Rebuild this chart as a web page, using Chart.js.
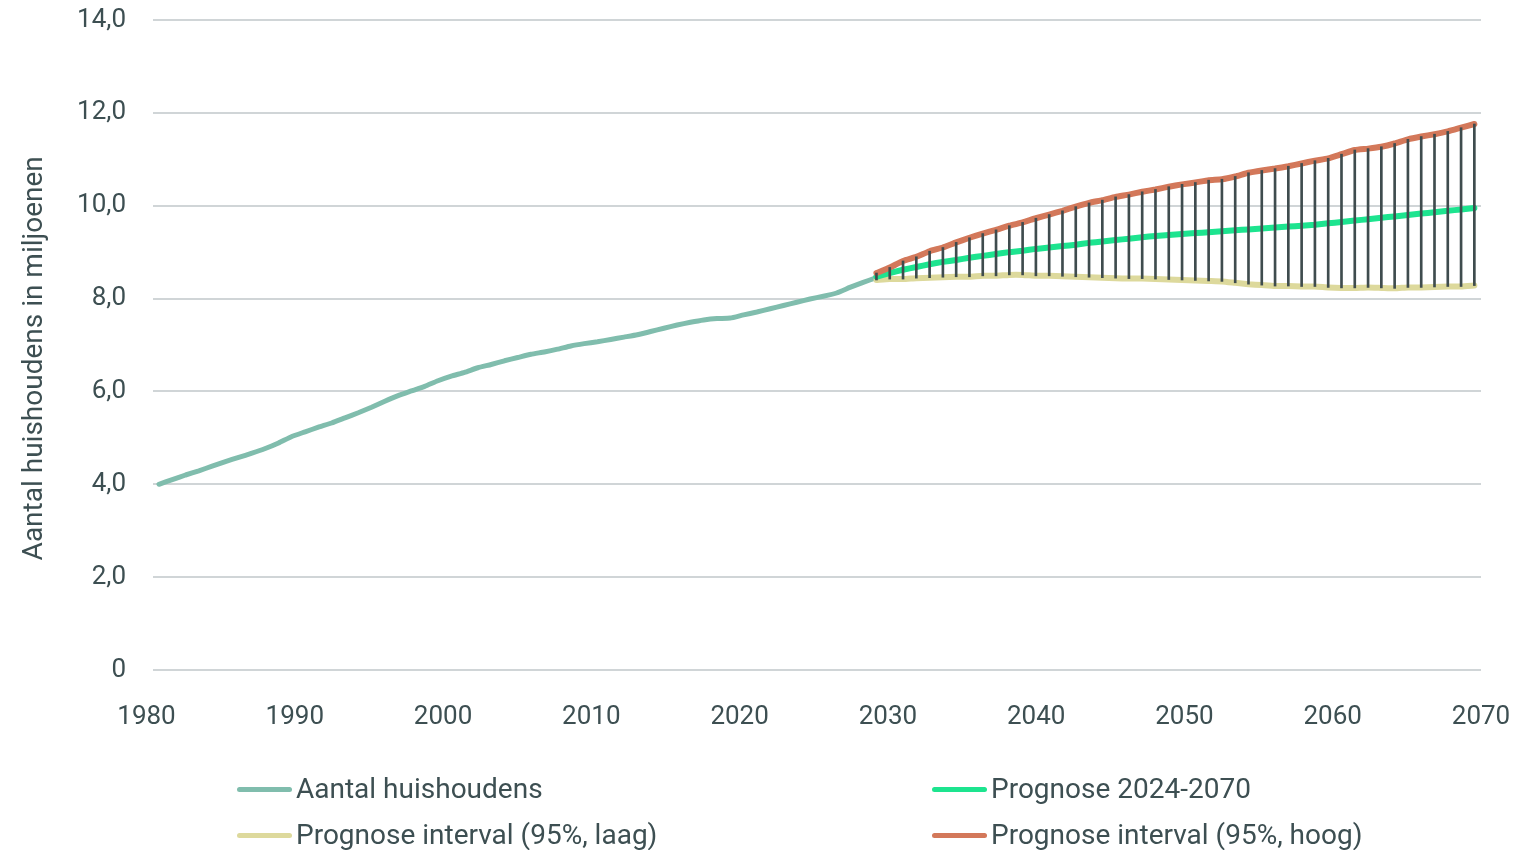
<!DOCTYPE html>
<html>
<head>
<meta charset="utf-8">
<script src="https://cdn.jsdelivr.net/npm/chart.js@4.4.1/dist/chart.umd.min.js"></script>
<style>
  html, body { margin: 0; padding: 0; background: #ffffff; }
  #wrap { position: relative; width: 1539px; height: 850px; overflow: hidden; background: #fff; }
  #c { position: absolute; left: 0; top: 0; }
  .legend { position: absolute; font-family: Roboto, sans-serif; font-size: 28px; line-height: 28px; color: #3d4f52; }
  .item { position: absolute; display: flex; align-items: center; white-space: nowrap; }
  .swatch { display: inline-block; width: 55px; height: 5px; border-radius: 3px; margin-right: 4px; }
</style>
</head>
<body>
<div id="wrap">
  <canvas id="c" width="1539" height="850"></canvas>
  <div id="legend" class="legend"></div>
</div>
<script>
// ---- Data ----
const histYears = [1971,1972,1973,1974,1975,1976,1977,1978,1979,1980,1981,1982,1983,1984,1985,1986,1987,1988,1989,1990,
  1991,1992,1993,1994,1995,1996,1997,1998,1999,2000,2001,2002,2003,2004,2005,2006,2007,2008,2009,2010,
  2011,2012,2013,2014,2015,2016,2017,2018,2019,2020,2021,2022,2023,2024,2025];
const histValues = [4.00,4.10,4.20,4.29,4.39,4.49,4.58,4.67,4.77,4.89,5.03,5.13,5.23,5.32,5.43,5.54,5.66,5.79,5.91,6.01,
  6.11,6.23,6.33,6.41,6.51,6.58,6.66,6.73,6.80,6.85,6.91,6.98,7.03,7.07,7.12,7.17,7.22,7.29,7.36,7.43,
  7.49,7.54,7.57,7.58,7.65,7.71,7.78,7.85,7.92,7.99,8.05,8.12,8.24,8.35,8.45];

const forecastYears = [2025,2026,2027,2028,2029,2030,2031,2032,2033,2034,2035,2036,2037,2038,2039,2040,2041,2042,2043,2044,
  2045,2046,2047,2048,2049,2050,2051,2052,2053,2054,2055,2056,2057,2058,2059,2060,2061,2062,2063,2064,
  2065,2066,2067,2068,2069,2070];
const forecastMid = [8.47,8.55,8.62,8.68,8.74,8.79,8.83,8.88,8.92,8.96,9.00,9.03,9.07,9.10,9.13,9.16,9.20,9.23,9.26,9.29,
  9.32,9.35,9.37,9.39,9.41,9.43,9.45,9.47,9.49,9.51,9.53,9.55,9.57,9.59,9.62,9.65,9.68,9.71,9.74,9.77,
  9.80,9.83,9.86,9.89,9.92,9.95];
const forecastLow = [8.40,8.42,8.42,8.44,8.45,8.46,8.47,8.47,8.49,8.49,8.51,8.51,8.49,8.49,8.48,8.47,8.46,8.45,8.44,8.43,
  8.43,8.42,8.41,8.40,8.39,8.38,8.37,8.34,8.31,8.29,8.27,8.27,8.26,8.26,8.24,8.23,8.23,8.24,8.23,8.22,
  8.24,8.24,8.25,8.26,8.26,8.28];
const forecastHigh = [8.55,8.67,8.81,8.90,9.02,9.10,9.21,9.31,9.40,9.48,9.57,9.64,9.73,9.81,9.89,9.98,10.06,10.12,10.19,10.24,
  10.30,10.35,10.41,10.46,10.50,10.55,10.57,10.63,10.71,10.76,10.80,10.85,10.91,10.97,11.02,11.11,11.20,11.23,11.27,11.34,
  11.43,11.49,11.54,11.60,11.68,11.76];

const xTickLabels = ['1980','1990','2000','2010','2020','2030','2040','2050','2060','2070'];
const yTickLabels = ['0','2,0','4,0','6,0','8,0','10,0','12,0','14,0'];

const seriesNames = ['Aantal huishoudens','Prognose 2024-2070','Prognose interval (95%, laag)','Prognose interval (95%, hoog)'];
const yTitle = 'Aantal huishoudens in miljoenen';

// ---- Styling ----
const COL_HIST = '#80bdad';
const COL_MID = '#1de48f';
const COL_LOW = '#ddd99c';
const COL_HIGH = '#d3785a';
const COL_BAR = '#3f4c4e';
const COL_TEXT = '#3d4f52';
const COL_GRID = '#d0d5d7';

const pts = (xs, ys) => xs.map((x, i) => ({x: x, y: ys[i]}));
const ranges = forecastYears.map((x, i) => ({x: x, y: [forecastLow[i], forecastHigh[i]]}));

const X_MIN = 1970.55, X_MAX = 2070.5, X_FIRST_TICK = 1970.06;

function build() {
  const ctx = document.getElementById('c').getContext('2d');
  const chart = new Chart(ctx, {
    type: 'line',
    data: {
      datasets: [
        { type: 'bar', label: 'range', data: ranges, backgroundColor: COL_BAR, barThickness: 2, order: 0, borderWidth: 0 },
        { label: seriesNames[3], data: pts(forecastYears, forecastHigh), borderColor: COL_HIGH, borderWidth: 6, order: 1 },
        { label: seriesNames[1], data: pts(forecastYears, forecastMid), borderColor: COL_MID, borderWidth: 6, order: 2 },
        { label: seriesNames[2], data: pts(forecastYears, forecastLow), borderColor: COL_LOW, borderWidth: 6, order: 3 },
        { label: seriesNames[0], data: pts(histYears, histValues), borderColor: COL_HIST, borderWidth: 5, order: 4 }
      ]
    },
    options: {
      responsive: false,
      animation: false,
      devicePixelRatio: 1,
      layout: { padding: { left: 0, right: 58, top: 20, bottom: 0 } },
      elements: {
        point: { radius: 0, hoverRadius: 0 },
        line: { tension: 0.15, borderCapStyle: 'round', borderJoinStyle: 'round', fill: false }
      },
      plugins: { legend: { display: false }, tooltip: { enabled: false } },
      scales: {
        x: {
          type: 'linear',
          min: X_MIN, max: X_MAX,
          offset: false,
          grid: { display: false, drawTicks: false },
          border: { display: false },
          afterBuildTicks: (scale) => {
            const step = (X_MAX - X_FIRST_TICK) / (xTickLabels.length - 1);
            scale.ticks = xTickLabels.map((l, k) => ({ value: X_FIRST_TICK + k * step }));
          },
          afterFit: (scale) => { scale.height = 180; scale.paddingLeft = 0; scale.paddingRight = 0; },
          ticks: {
            autoSkip: false, maxRotation: 0, minRotation: 0, padding: 32,
            color: COL_TEXT, font: { family: 'Roboto', size: 26 },
            callback: (v, i) => xTickLabels[i]
          }
        },
        y: {
          min: 0, max: 14,
          grid: { color: COL_GRID, lineWidth: 2, drawTicks: false },
          border: { display: false },
          afterFit: (scale) => { scale.width = 153; scale.paddingTop = 0; scale.paddingBottom = 0; },
          ticks: {
            stepSize: 2, padding: 27,
            color: COL_TEXT, font: { family: 'Roboto', size: 26 },
            callback: (v, i) => yTickLabels[i]
          },
          title: {
            display: true, text: yTitle + '   \u2009', color: COL_TEXT,
            font: { family: 'Roboto', size: 28 }, padding: { top: 18, bottom: 0 }
          }
        }
      }
    }
  });

  const lg = document.getElementById('legend');
  const pos = {
    [seriesNames[0]]: [237, 775],
    [seriesNames[1]]: [932, 775],
    [seriesNames[2]]: [237, 821],
    [seriesNames[3]]: [932, 821]
  };
  chart.data.datasets.filter(d => d.type !== 'bar').forEach(d => {
    const p = pos[d.label];
    const it = document.createElement('div');
    it.className = 'item';
    it.style.left = p[0] + 'px';
    it.style.top = p[1] + 'px';
    const sw = document.createElement('span');
    sw.className = 'swatch';
    sw.style.background = d.borderColor;
    const tx = document.createElement('span');
    tx.textContent = d.label;
    it.appendChild(sw); it.appendChild(tx);
    lg.appendChild(it);
  });
}

if (document.fonts && document.fonts.load) {
  Promise.all([document.fonts.load('26px Roboto'), document.fonts.load('28px Roboto')]).then(build, build);
} else { build(); }
</script>
</body>
</html>
